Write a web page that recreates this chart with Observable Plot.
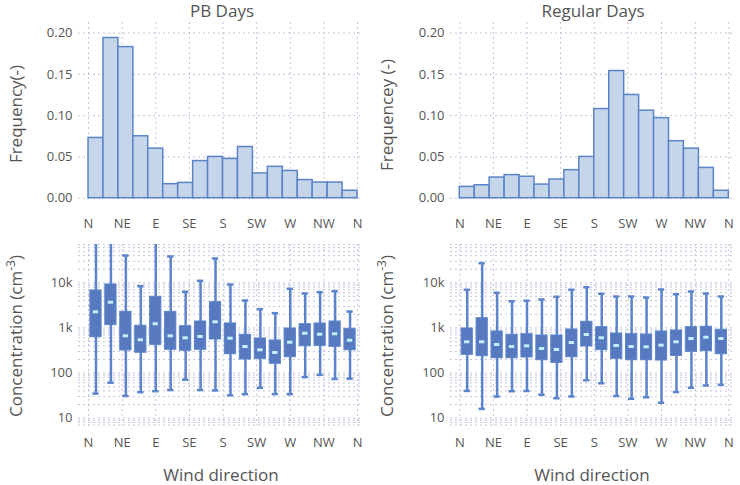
<!DOCTYPE html>
<html><head><meta charset="utf-8">
<script src="https://cdn.jsdelivr.net/npm/d3@7"></script>
<script src="https://cdn.jsdelivr.net/npm/@observablehq/plot@0.6"></script>
<style>
body{margin:0;background:#fff;font-family:"Open Sans",sans-serif;}
#wrap{position:relative;width:740px;height:485px;overflow:hidden;background:#fff;}
.p{position:absolute;overflow:visible;}
.t{position:absolute;color:#555;white-space:nowrap;font-size:17px;line-height:1.2;}
.c{transform:translate(-50%,-50%);}
.rot{transform:translate(-50%,-50%) rotate(-90deg);}
sup{font-size:12px;vertical-align:7px;line-height:0;}
</style></head><body><div id="wrap"></div>
<script>
// ---- data ----
const dirLabels = ["N","NE","E","SE","S","SW","W","NW","N"];
const dirTicks = [0,45,90,135,180,225,270,315,360];
const binStarts = [0,20,40,60,80,100,120,140,160,180,200,220,240,260,280,300,320,340];
const binWidth = 20;
const freqTicks = [0,0.05,0.10,0.15,0.20];
const concTicks = [10,100,1000,10000];

const freqPB  = [0.073,0.194,0.183,0.075,0.060,0.017,0.0185,0.045,0.050,0.0476,0.062,0.030,0.038,0.033,0.022,0.019,0.019,0.009];
const freqReg = [0.0137,0.0157,0.025,0.028,0.026,0.0165,0.0226,0.034,0.050,0.108,0.154,0.125,0.106,0.097,0.069,0.060,0.0367,0.009];

const pbLow  = [35,61,31,37.5,39.5,42,71,42,41,32,34,47,34,34,81,91,74,75];
const pbQ1   = [622,1150,316,281,422,327,311,327,553,261,199,206,160,224,393,401,381,320];
const pbMed  = [2275,3710,668,545,1234,668,603,645,1365,591,387,327,285,482,762,725,740,533];
const pbQ3   = [6740,9170,2275,1115,4900,2275,1090,1387,3710,1254,703,582,526,971,1208,1254,1387,955];
const pbHigh = [100000,100000,40300,8410,100000,38300,6310,11070,34600,9170,4050,2600,2120,7360,5800,6190,6510,2310];

const regLow  = [40,16,30,39.5,40,33,27.6,30,69,59,31,26.8,29,22,38,47,53,55];
const regQ1   = [253,236,213,213,221,192,168,224,387,321,206,192,192,189,240,295,305,261];
const regMed  = [492,492,428,387,401,349,332,475,714,603,407,387,381,414,492,582,622,582];
const regQ3   = [971,1640,832,703,725,678,678,923,1365,1038,751,725,714,832,875,1038,1060,908];
const regHigh = [7000,27200,6000,3910,3980,4270,4900,7000,8000,5700,4970,4970,4720,7100,5590,6410,5800,4970];

// ---- styles ----
const GRID = "#c3c3dc";
const BAR_FILL = "#c5d5ea", BAR_STROKE = "#5b84c8";
const BOX_FILL = "#5679c0", WHISK = "#5b84cc", MED = "#bff0fc";
const FONT = "'Open Sans', sans-serif";
const logGrid = [];
for (let e = 0; e <= 4; e++) for (let k = 1; k <= 9; k++) logGrid.push(k * Math.pow(10, e));

const wrap = document.getElementById("wrap");
function place(el, x, y){ el.classList.add("p"); el.style.left = x+"px"; el.style.top = y+"px"; wrap.appendChild(el); }
function label(html, x, y, cls, size){
  const d = document.createElement("div");
  d.className = "t " + cls; d.innerHTML = html;
  d.style.left = x+"px"; d.style.top = y+"px";
  if (size) d.style.fontSize = size+"px";
  wrap.appendChild(d);
}
const dirFmt = d => dirLabels[dirTicks.indexOf(d)];
const gridOpts = {stroke: GRID, strokeOpacity: 1, strokeDasharray: "2 3", strokeWidth: 1};

function hist(freq, ml, mr, xd){
  const rows = freq.map((f,i) => ({x1: binStarts[i], x2: binStarts[i]+binWidth, f}));
  return Plot.plot({
    width: 370, height: 244, marginLeft: ml, marginRight: mr, marginTop: 22, marginBottom: 42,
    style: {fontFamily: FONT, fontSize: "13px", color: "#555", background: "transparent", overflow: "visible"},
    x: {domain: xd}, y: {domain: [-0.0052, 0.2128]},
    marks: [
      Plot.gridX(dirTicks, gridOpts),
      Plot.gridY(freqTicks, gridOpts),
      Plot.rect(rows, {x1: "x1", x2: "x2", y1: 0, y2: "f", fill: BAR_FILL, stroke: BAR_STROKE, strokeWidth: 1.5, inset: 0}),
      Plot.axisX(dirTicks, {tickFormat: dirFmt, tickSize: 0, tickPadding: 16, label: null}),
      Plot.axisY(freqTicks, {tickFormat: d3.format(".2f"), tickSize: 0, tickPadding: 6, label: null})
    ]
  });
}

function boxes(lo, q1, med, q3, hi, ml, mr, xd){
  const rows = lo.map((v,i) => ({c: binStarts[i] + binWidth/2, lo: v, q1: q1[i], med: med[i], q3: q3[i], hi: hi[i]}));
  return Plot.plot({
    width: 370, height: 255, marginLeft: ml, marginRight: mr, marginTop: 14, marginBottom: 60,
    style: {fontFamily: FONT, fontSize: "13px", color: "#555", background: "transparent", overflow: "visible"},
    x: {domain: xd}, y: {type: "log", domain: [6.86, 70600]},
    marks: [
      Plot.gridX(dirTicks, gridOpts),
      Plot.gridY(logGrid.filter(v => v >= 7 && v <= 70000), gridOpts),
      Plot.ruleX(rows, {x: "c", y1: "lo", y2: "hi", stroke: WHISK, strokeWidth: 2.5, clip: true}),
      Plot.ruleY(rows, {y: "lo", x1: d => d.c - 4.2, x2: d => d.c + 4.2, stroke: WHISK, strokeWidth: 2.5, clip: true}),
      Plot.ruleY(rows, {y: "hi", x1: d => d.c - 4.2, x2: d => d.c + 4.2, stroke: WHISK, strokeWidth: 2.5, clip: true}),
      Plot.rect(rows, {x1: d => d.c - 7.5, x2: d => d.c + 7.5, y1: "q1", y2: "q3", fill: BOX_FILL, stroke: WHISK, strokeWidth: 1, inset: 0}),
      Plot.ruleY(rows, {y: "med", x1: d => d.c - 3.6, x2: d => d.c + 3.6, stroke: MED, strokeWidth: 3}),
      Plot.axisX(dirTicks, {tickFormat: dirFmt, tickSize: 0, tickPadding: 12, label: null}),
      Plot.axisY(concTicks, {tickFormat: d => d >= 1000 ? (d/1000) + "k" : String(d), tickSize: 0, tickPadding: 6, label: null})
    ]
  });
}

place(hist(freqPB, 78, 7, [-13.4, 368]), 0, 0);
place(hist(freqReg, 80, 6.7, [-12.4, 366.7]), 370, 0);
place(boxes(pbLow, pbQ1, pbMed, pbQ3, pbHigh, 78, 7, [-13.4, 368]), 0, 230);
place(boxes(regLow, regQ1, regMed, regQ3, regHigh, 80, 6.7, [-12.4, 366.7]), 370, 230);

label("PB Days", 222, 11, "c");
label("Regular Days", 593, 11, "c");
label("Frequency(-)", 16, 114, "rot");
label("Frequencey (-)", 387, 115, "rot");
label("Concentration (cm<sup>-3</sup>)", 16, 336, "rot");
label("Concentration (cm<sup>-3</sup>)", 387, 336, "rot");
label("Wind direction", 221, 475, "c");
label("Wind direction", 592, 475, "c");
</script></body></html>
